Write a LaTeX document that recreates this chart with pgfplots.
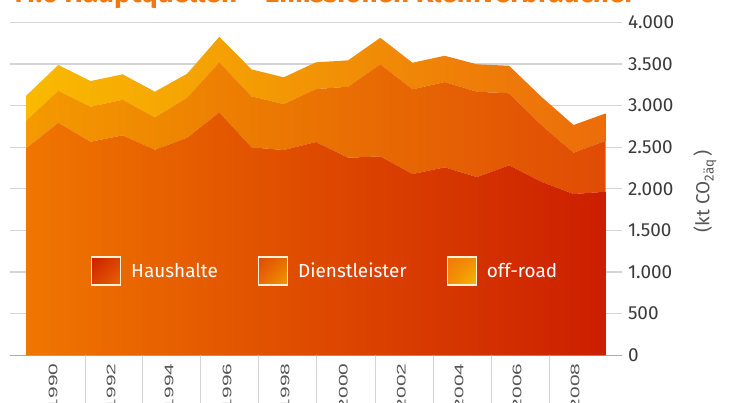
\documentclass[border=0pt]{standalone}
\usepackage{pgfplots}
\pgfplotsset{compat=1.18}
\usepackage{pgfplotstable}
\usepackage{fontspec}
\setmainfont{Fira Sans}
\newfontfamily\labelfont{Liberation Sans}
\usetikzlibrary{shadings}

\definecolor{hhL}{HTML}{F07600}
\definecolor{hhR}{HTML}{CC1E00}
\definecolor{dlL}{HTML}{F49A00}
\definecolor{dlR}{HTML}{E04B05}
\definecolor{orL}{HTML}{F9BA00}
\definecolor{orR}{HTML}{EC6C0A}
\definecolor{titleC}{HTML}{F07A10}
\definecolor{tickC}{HTML}{3A3A3A}
\definecolor{xlabC}{HTML}{555555}
\definecolor{gridC}{HTML}{D4D4D4}
\definecolor{baseC}{HTML}{ABABAB}
\definecolor{legBorder}{HTML}{FFF0D8}

\pgfplotstableread{
i H D O
0 2486 332 300
1 2794 384 309
2 2565 421 308
3 2642 428 305
4 2469 389 308
5 2613 481 288
6 2918 601 307
7 2498 613 324
8 2466 552 321
9 2562 636 321
10 2373 853 317
11 2390 1105 319
12 2177 1018 319
13 2258 1024 316
14 2141 1025 329
15 2282 865 331
16 2085 681 340
17 1937 496 333
18 1965 612 329
}\datatable

\newcommand{\xl}[1]{\scalebox{1.68}[1]{#1}}

\begin{document}
\begin{tikzpicture}
\useasboundingbox (0,0) rectangle (734bp,403bp);
\clip (0,0) rectangle (734bp,403bp);
\begin{axis}[
  scale only axis,
  width=611.8bp, height=333bp,
  at={(10bp,47.7bp)}, anchor=south west,
  xmin=-0.5, xmax=18.5,
  ymin=0, ymax=4000,
  stack plots=y,
  axis x line*=bottom,
  axis y line*=right,
  x axis line style={draw=baseC, line width=1.5bp},
  y axis line style={draw=none},
  ymajorgrids=true,
  major grid style={draw=gridC, line width=1.3bp},
  major tick length=0bp,
  ytick={0,500,...,4000},
  scaled y ticks=false,
  /pgf/number format/.cd, use comma, 1000 sep={.}, assume math mode=true,
  /pgfplots/.cd,
  yticklabel style={font=\fontsize{19}{22}\selectfont, text=tickC, anchor=west, inner sep=0pt, xshift=6bp},
  xtick={0.84,2.64,4.44,6.24,8.04,9.85,11.65,13.45,15.25,17.05},
  xticklabels={\xl{1990},\xl{1992},\xl{1994},\xl{1996},\xl{1998},\xl{2000},\xl{2002},\xl{2004},\xl{2006},\xl{2008}},
  xticklabel style={font=\labelfont\fontsize{12.5}{13}\selectfont, text=xlabC, yshift=-8bp, rotate=90, anchor=east, inner sep=0pt},
  extra x ticks={1.83,3.63,5.43,7.23,9.03,10.84,12.64,14.44,16.24},
  extra x tick labels={},
  extra x tick style={major tick length=70bp, xtick align=outside, tick style={draw=gridC, line width=1bp}},
  ylabel={(kt CO\textsubscript{2äq}\,)},
  ylabel style={at={(axis description cs:1.136,0.493)}, anchor=center, font=\fontsize{19}{22}\selectfont, text=xlabC},
  legend columns=3,
  legend style={draw=none, fill=none, at={(axis description cs:0.127,0.253)}, anchor=west,
    font=\fontsize{19}{22}\selectfont, text=white,
    /tikz/every odd column/.append style={column sep=8bp},
    /tikz/every even column/.append style={column sep=38bp}},
  legend cell align=left,
]
\addplot[draw=none, left color=hhL, right color=hhR,
  legend image code/.code={\draw[draw=legBorder, line width=1.3bp, lower left=hhL!80!hhR, upper right=hhR, upper left=hhL!40!hhR, lower right=hhL!40!hhR] (0bp,-14bp) rectangle (29bp,14bp);}]
  table[x=i, y=H] {\datatable} \closedcycle;
\addlegendentry{Haushalte}
\addplot[draw=none, left color=dlL, right color=dlR,
  legend image code/.code={\draw[draw=legBorder, line width=1.3bp, lower left=dlL, upper right=dlR, upper left=dlL!40!dlR, lower right=dlL!40!dlR] (0bp,-14bp) rectangle (29bp,14bp);}]
  table[x=i, y=D] {\datatable} \closedcycle;
\addlegendentry{Dienstleister}
\addplot[draw=none, left color=orL, right color=orR,
  legend image code/.code={\draw[draw=legBorder, line width=1.3bp, lower left=orL, upper right=orR!80!orL, upper left=orL!40!orR, lower right=orL!40!orR] (0bp,-14bp) rectangle (29bp,14bp);}]
  table[x=i, y=O] {\datatable} \closedcycle;
\addlegendentry{off-road}
\end{axis}
\node[anchor=base west, inner sep=0pt, text=titleC, font=\fontsize{28}{32}\selectfont\bfseries] at (10bp,400bp) {11.6 Hauptquellen – Emissionen Kleinverbraucher};
\end{tikzpicture}
\end{document}
